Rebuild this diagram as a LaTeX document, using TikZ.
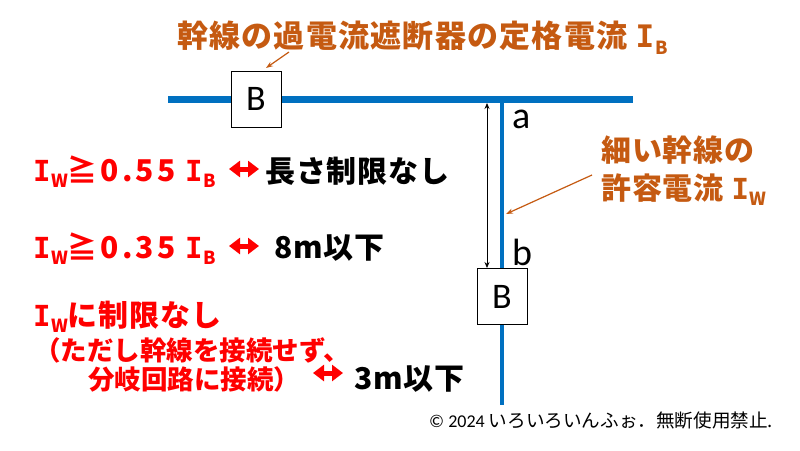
\documentclass[tikz,border=0pt]{standalone}
\usepackage{fontspec}
\usetikzlibrary{arrows.meta}
\setmainfont{Carlito}
\newfontfamily\jp{Noto Sans CJK JP}
\newfontfamily\jpT{Noto Sans CJK JP}[LetterSpace=4]
\newfontfamily\jpS{Noto Sans CJK JP}[LetterSpace=3]
\newfontfamily\jpN{Noto Sans CJK JP}[LetterSpace=10]
\newfontfamily\monoI{DejaVu Sans Mono}
\definecolor{orng}{HTML}{C55A11}
\definecolor{blu}{HTML}{0070C0}
\definecolor{rd}{HTML}{FF0000}
\newcommand\IsubT[1]{{\monoI\bfseries I}\kern1pt\raisebox{-7pt}{\jp\fontsize{18}{18}\selectfont #1}}
\newcommand\IsubR[1]{{\monoI\bfseries\fontsize{29}{29}\selectfont I}\kern0.5pt\raisebox{-6pt}{\jp\fontsize{18}{18}\selectfont #1}}
\tikzset{
  bus/.style={blu, line width=7pt},
  tap/.style={blu, line width=3.5pt},
  breaker/.style={draw=black, line width=1pt, fill=white, minimum width=50pt, minimum height=56pt, inner sep=0pt, font=\fontsize{36}{36}\selectfont},
  txt/.style={anchor=base west, inner sep=0pt},
  redtxt/.style={txt, text=rd, font=\jpS\bfseries\fontsize{30}{30}\selectfont},
  numtxt/.style={txt, text=rd, font=\jpN\bfseries\fontsize{30}{30}\selectfont},
  blktxt/.style={txt, text=black, font=\jpS\bfseries\fontsize{30}{30}\selectfont},
  orngtxt/.style={txt, text=orng, font=\jpS\bfseries\fontsize{30}{30}\selectfont},
  smalltxt/.style={txt, text=rd, font=\jp\bfseries\fontsize{26.5}{26.5}\selectfont},
  callout/.style={orng, line width=1.2pt, -{Stealth[length=7pt,width=5pt]}},
  redarrow/.style={rd, line width=5pt, {Triangle[length=11pt,width=16pt]}-{Triangle[length=11pt,width=16pt]}},
  dimarrow/.style={black, line width=0.8pt, {Stealth[length=6pt,width=5pt]}-{Stealth[length=6pt,width=5pt]}},
  letter/.style={txt, font=\fontsize{38}{38}\selectfont}
}
\begin{document}
\begin{tikzpicture}[x=1pt,y=-1pt]
\useasboundingbox[fill=white] (0,0) rectangle (800,450);
% bus and tap
\coordinate (busL) at (168,99);
\coordinate (busR) at (633,99);
\coordinate (tapT) at (502,99);
\coordinate (tapB) at (502,405);
\draw[bus] (busL) -- (busR);
\draw[tap] (tapT) -- (tapB);
\node[breaker] (B1) at (256,99) {B};
\node[breaker] (B2) at (502,296.5) {B};
% title
\node[txt, text=orng, font=\jpT\bfseries\fontsize{31}{31}\selectfont] (title) at (177,47) {幹線の過電流遮断器の定格電流 \IsubT{B}};
\coordinate (c1s) at (289,52);
\coordinate (c1e) at (266,68);
\draw[callout] (c1s) -- (c1e);
% a, b
\node[letter] (la) at (512,128) {a};
\node[letter] (lb) at (512,265) {b};
\coordinate (d1) at (487,103);
\coordinate (d2) at (487,268);
\draw[dimarrow] (d1) -- (d2);
% right label
\node[orngtxt] (rl1) at (601,161) {細い幹線の};
\node[orngtxt] (rl2) at (601,199) {許容電流 \IsubR{W}};
\coordinate (c2s) at (592,175);
\coordinate (c2e) at (506,214);
\draw[callout] (c2s) -- (c2e);
% rows
\node[numtxt] (r1a) at (33,181) {\IsubR{W}≧0.55 \IsubR{B}};
\node[blktxt] (r1b) at (265,182) {長さ制限なし};
\coordinate (a1l) at (229,169);
\coordinate (a1r) at (259,169);
\draw[redarrow] (a1l) -- (a1r);
\node[numtxt] (r2a) at (33,258) {\IsubR{W}≧0.35 \IsubR{B}};
\node[blktxt] (r2b) at (274,258) {8m以下};
\coordinate (a2l) at (229,246);
\coordinate (a2r) at (259,246);
\draw[redarrow] (a2l) -- (a2r);
\node[redtxt] (r3a) at (33,326) {\IsubR{W}に制限なし};
\node[smalltxt] (r3b) at (34,360) {（ただし幹線を接続せず、};
\node[smalltxt] (r3c) at (88,389) {分岐回路に接続）};
\node[blktxt] (r3d) at (354,389) {3m以下};
\coordinate (a3l) at (313,373);
\coordinate (a3r) at (343,373);
\draw[redarrow] (a3l) -- (a3r);
% copyright
\node[txt, font=\fontsize{18}{18}\selectfont] (copy) at (429,427) {© 2024 {\jp\fontsize{18.6}{18.6}\selectfont いろいろいんふぉ．無断使用禁止.}};
\end{tikzpicture}
\end{document}
